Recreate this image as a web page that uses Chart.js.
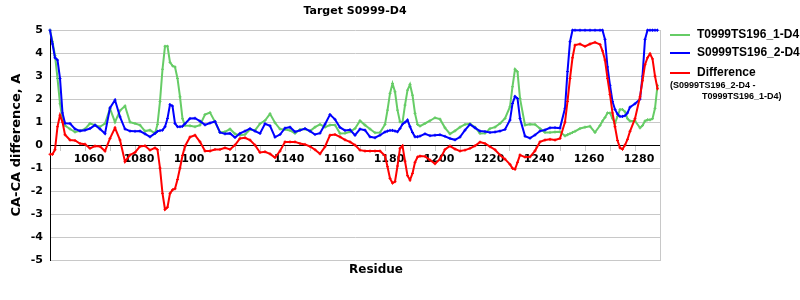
<!DOCTYPE html>
<html>
<head>
<meta charset="utf-8">
<script src="https://cdn.jsdelivr.net/npm/chart.js@4.4.1/dist/chart.umd.min.js"></script>
<style>
  html, body { margin: 0; padding: 0; background: #fff; }
</style>
</head>
<body>
<canvas id="chart" width="800" height="300"></canvas>
<script>
// residue numbers shared by all three series
const residues = [
  1046, 1047, 1048, 1049, 1050, 1051, 1052,
  1054, 1056, 1058, 1060, 1062, 1064, 1066, 1068, 1070, 1072, 1074, 1076, 1078, 1080, 1082, 1084, 1086, 1088,
  1089, 1090, 1091, 1092, 1093, 1094, 1095, 1096, 1097, 1098, 1099, 1100,
  1102, 1104, 1106, 1108, 1110, 1112, 1114, 1116, 1118, 1120,
  1122, 1124, 1126, 1128, 1130, 1132, 1134, 1136, 1138, 1140,
  1142, 1144, 1146, 1148, 1150, 1152, 1154, 1156, 1158, 1160,
  1162, 1164, 1166, 1168, 1170, 1172, 1174, 1176, 1178, 1180,
  1181, 1182, 1183, 1184, 1185, 1186, 1187, 1188, 1189, 1190, 1191, 1192, 1193, 1194,
  1196, 1198, 1200, 1202, 1204, 1206, 1208, 1210, 1212, 1214,
  1216, 1218, 1220, 1222, 1224, 1226, 1228, 1230,
  1231, 1232, 1233, 1234,
  1236, 1238, 1240, 1242, 1244, 1246, 1248, 1250, 1252,
  1253, 1254, 1255, 1256,
  1258, 1260, 1262, 1264, 1266,
  1267, 1268, 1269, 1270, 1271, 1272, 1273, 1274, 1275, 1276, 1277, 1278,
  1280, 1282,
  1283, 1284, 1285, 1286, 1287, 1288, 1289
];

// T0999TS196_1-D4
const t0999 = [
  5.0, 4.5, 3.9, 2.9, 1.8, 1.1, 0.85,
  0.7, 0.57, 0.62, 0.7, 0.94, 0.87, 0.8, 0.94, 1.59, 1.0, 1.5, 1.7, 1.0, 0.94, 0.87, 0.61, 0.65, 0.51,
  0.9, 1.9, 3.3, 4.3, 4.3, 3.6, 3.45, 3.4, 2.9, 2.1, 1.15, 0.85,
  0.84, 0.8, 0.87, 1.33, 1.42, 1.01, 0.55, 0.58, 0.7, 0.49,
  0.43, 0.46, 0.68, 0.64, 0.93, 1.07, 1.36, 0.97, 0.7, 0.68,
  0.64, 0.51, 0.68, 0.7, 0.61, 0.78, 0.9, 0.78, 0.87, 0.87,
  0.51, 0.52, 0.58, 0.72, 1.06, 0.87, 0.7, 0.54, 0.55, 0.9,
  1.52, 2.25, 2.68, 2.32, 1.52, 1.01, 0.99, 1.74, 2.39, 2.64, 2.17, 1.38, 0.9, 0.83,
  0.94, 1.06, 1.19, 1.13, 0.75, 0.49, 0.62, 0.78, 0.9, 0.93,
  0.78, 0.51, 0.52, 0.72, 0.78, 0.94, 1.16, 1.67,
  2.54, 3.3, 3.19, 2.03,
  0.87, 0.91, 0.9, 0.72, 0.55, 0.55, 0.57, 0.58, 0.4,
  0.45, 0.5, 0.55, 0.6,
  0.72, 0.78, 0.82, 0.55, 0.85,
  1.05, 1.2, 1.4, 1.4, 1.15, 0.95, 1.25, 1.55, 1.55, 1.45, 1.15, 1.05,
  1.05, 0.75,
  0.85, 1.05, 1.1, 1.1, 1.15, 1.6, 2.6
];

// S0999TS196_2-D4
const s0999 = [
  5.0, 4.4, 3.8, 3.7, 2.9, 1.4, 0.95,
  0.94, 0.7, 0.62, 0.65, 0.72, 0.87, 0.7, 0.5, 1.62, 1.96, 1.23, 0.7, 0.61, 0.6, 0.61, 0.49, 0.36, 0.51,
  0.6, 0.63, 0.65, 0.8, 1.16, 1.76, 1.7, 0.94, 0.8, 0.8, 0.82, 0.93,
  1.16, 1.17, 1.04, 0.88, 0.96, 1.03, 0.55, 0.49, 0.51, 0.33,
  0.51, 0.61, 0.72, 0.61, 0.51, 0.93, 0.84, 0.35, 0.46, 0.74,
  0.78, 0.58, 0.64, 0.72, 0.61, 0.46, 0.52, 0.91, 1.33, 1.12,
  0.77, 0.64, 0.67, 0.43, 0.7, 0.65, 0.36, 0.32, 0.43, 0.57,
  0.61, 0.64, 0.64, 0.61, 0.58, 0.72, 0.91, 0.99, 1.09, 0.8, 0.55, 0.36, 0.36, 0.39,
  0.49, 0.41, 0.43, 0.45, 0.38, 0.29, 0.23, 0.35, 0.65, 0.9,
  0.75, 0.61, 0.59, 0.55, 0.57, 0.61, 0.68, 1.09,
  1.81, 2.12, 2.03, 1.16,
  0.39, 0.3, 0.44, 0.61, 0.66, 0.75, 0.76, 0.74, 1.6,
  3.2, 4.5, 5.0, 5.0,
  5.0, 5.0, 5.0, 5.0, 5.0,
  5.0, 4.6, 3.4, 2.6, 1.9, 1.55, 1.35, 1.25, 1.25, 1.28, 1.4, 1.65,
  1.8, 2.0,
  3.0, 4.6, 5.0, 5.0, 5.0, 5.0, 5.0
];

// Difference (S0999TS196_2-D4 - T0999TS196_1-D4)
const difference = [
  -0.4, -0.4, -0.2, 0.8, 1.3, 1.0, 0.45,
  0.22, 0.2, 0.07, 0.04, -0.14, -0.04, -0.06, -0.26, 0.29, 0.75, 0.22, -0.72, -0.43, -0.32, -0.06, -0.03, -0.22, -0.12,
  -0.2, -1.0, -2.1, -2.8, -2.7, -2.1, -1.95, -1.9, -1.5, -1.0, -0.45, -0.05,
  0.35, 0.43, 0.14, -0.26, -0.26, -0.19, -0.19, -0.12, -0.19, 0.0,
  0.29, 0.32, 0.22, 0.0, -0.32, -0.29, -0.38, -0.54, -0.26, 0.14,
  0.14, 0.14, 0.07, 0.03, -0.06, -0.2, -0.38, -0.07, 0.43, 0.46,
  0.36, 0.23, 0.14, 0.0, -0.22, -0.26, -0.26, -0.26, -0.26, -0.46,
  -0.94, -1.45, -1.65, -1.59, -0.91, -0.14, -0.03, -0.7, -1.33, -1.52, -1.23, -0.75, -0.52, -0.48,
  -0.49, -0.65, -0.81, -0.61, -0.19, -0.04, -0.17, -0.26, -0.22, -0.14,
  -0.03, 0.13, 0.07, -0.07, -0.2, -0.43, -0.61, -0.84,
  -1.01, -1.05, -0.75, -0.43,
  -0.52, -0.51, -0.25, 0.14, 0.22, 0.25, 0.22, 0.29, 1.0,
  1.9, 2.9, 3.8, 4.35,
  4.4, 4.3, 4.4, 4.47, 4.38,
  4.1, 3.7, 2.9, 2.2, 1.4, 0.8, 0.2, -0.12, -0.18, 0.0, 0.25, 0.6,
  1.15, 2.1,
  2.8, 3.5, 3.8, 3.97, 3.75, 3.0, 2.45
];

// x tick marks every 10 residues, labelled every 20
const xTickValues = [1050, 1060, 1070, 1080, 1090, 1100, 1110, 1120, 1130, 1140, 1150, 1160, 1170,
  1180, 1190, 1200, 1210, 1220, 1230, 1240, 1250, 1260, 1270, 1280, 1290];

const GREEN = 'rgb(102, 204, 102)';
const BLUE = 'rgb(0, 0, 255)';
const RED = 'rgb(255, 0, 0)';
const GRID = 'rgb(200, 200, 200)';

const legendRows = [
  { label: 'T0999TS196_1-D4', color: GREEN },
  { label: 'S0999TS196_2-D4', color: BLUE },
  { label: 'Difference', color: RED, note: ['(S0999TS196_2-D4 -', 'T0999TS196_1-D4)'] }
];

function series(label, values, color, order) {
  return {
    label: label,
    data: residues.map((r, i) => ({ x: r, y: values[i] })),
    borderColor: color,
    backgroundColor: color,
    pointBorderColor: color,
    pointStyle: 'cross',
    pointRadius: 1.5,
    pointBorderWidth: 1,
    borderWidth: 2,
    tension: 0,
    fill: false,
    clip: false,
    order: order
  };
}

// legend at the right and the x axis title, drawn on the canvas
const sideLegend = {
  id: 'sideLegend',
  afterDraw(chart) {
    const ctx = chart.ctx;
    const area = chart.chartArea;
    ctx.save();
    ctx.textBaseline = 'middle';
    ctx.textAlign = 'left';
    const x0 = area.right + 10;
    const rowsY = [35, 53, 73];
    legendRows.forEach((row, i) => {
      const y = rowsY[i];
      ctx.strokeStyle = row.color;
      ctx.lineWidth = 2;
      ctx.beginPath();
      ctx.moveTo(x0, y);
      ctx.lineTo(x0 + 20, y);
      ctx.stroke();
      ctx.fillStyle = '#000';
      ctx.font = 'bold 12px "Liberation Sans", Arial, sans-serif';
      ctx.fillText(row.label, x0 + 27, y);
      if (row.note) {
        ctx.font = 'bold 9px "Liberation Sans", Arial, sans-serif';
        ctx.fillText(row.note[0], x0, y + 13);
        ctx.fillText(row.note[1], x0 + 32, y + 24);
      }
    });
    ctx.font = 'bold 12px "DejaVu Sans", sans-serif';
    ctx.textAlign = 'center';
    ctx.fillText('Residue', (area.left + area.right) / 2 + 21, area.bottom + 10);
    ctx.restore();
  }
};

const tickFont = { family: 'DejaVu Sans', weight: 'bold', size: 11 };

new Chart(document.getElementById('chart'), {
  type: 'line',
  data: {
    datasets: [
      series('T0999TS196_1-D4', t0999, GREEN, 3),
      series('S0999TS196_2-D4', s0999, BLUE, 2),
      series('Difference', difference, RED, 1)
    ]
  },
  options: {
    responsive: false,
    animation: false,
    layout: { padding: { left: 0, right: 140, top: 0, bottom: 40 } },
    plugins: {
      legend: { display: false },
      tooltip: { enabled: false },
      title: {
        display: true,
        text: 'Target S0999-D4',
        fullSize: false,
        color: '#000',
        font: { family: 'DejaVu Sans', weight: 'bold', size: 11 },
        padding: { top: 5, bottom: 12 }
      }
    },
    scales: {
      x: {
        type: 'linear',
        position: { y: 0 },
        min: 1046,
        max: 1290,
        afterFit: scale => { scale.height = 0; },
        afterBuildTicks: scale => { scale.ticks = xTickValues.map(v => ({ value: v })); },
        grid: { drawOnChartArea: false, drawTicks: true, tickLength: 5, color: GRID },
        border: { color: '#000', width: 1 },
        ticks: {
          autoSkip: false,
          maxRotation: 0,
          padding: 2,
          labelOffset: 4,
          color: '#000',
          font: tickFont,
          callback: v => (v % 20 === 0 ? String(v) : '')
        }
      },
      y: {
        min: -5,
        max: 5,
        afterFit: scale => { scale.width = 50; },
        ticks: { stepSize: 1, padding: 7, color: '#000', font: tickFont },
        grid: {
          drawTicks: false,
          color: ctx => (ctx.tick && ctx.tick.value === 0 ? '#000' : GRID)
        },
        border: { color: '#000', width: 1 },
        title: {
          display: true,
          text: 'CA-CA difference, A',
          color: '#000',
          font: { family: 'DejaVu Sans', weight: 'bold', size: 13 },
          padding: { top: 9, bottom: 0 }
        }
      },
      y2: {
        position: 'right',
        min: -5,
        max: 5,
        afterFit: scale => { scale.width = 0; },
        ticks: { display: false },
        grid: { display: false },
        border: { color: GRID, width: 1 }
      }
    }
  },
  plugins: [sideLegend]
});
</script>
</body>
</html>
